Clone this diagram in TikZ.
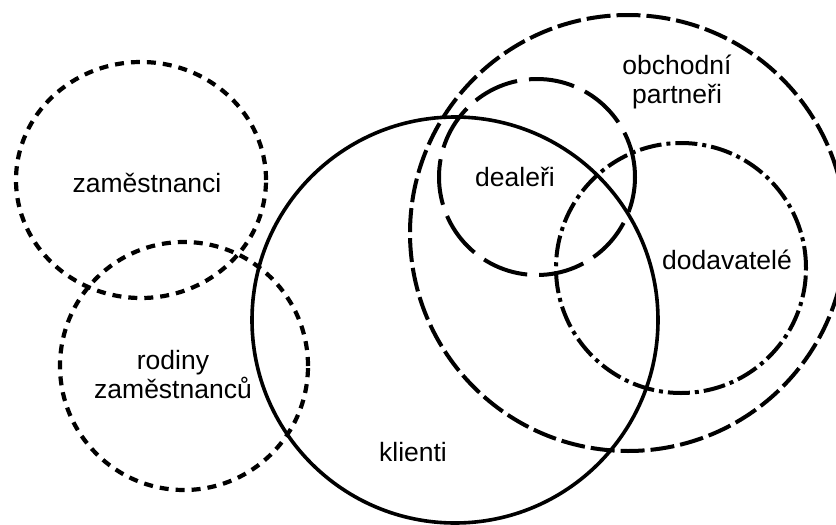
\documentclass[tikz,border=0pt]{standalone}
\usepackage{fontspec}
\setmainfont{Liberation Sans}
\usetikzlibrary{shapes.geometric}
\begin{document}
\begin{tikzpicture}[x=1pt,y=-1pt,
  set/.style={circle,draw=black,line width=3.6pt,inner sep=0pt,outer sep=0pt},
  shortdash/.style={set,line width=4.2pt,dash pattern=on 9pt off 7pt},
  middash/.style={set,line width=4pt,dash pattern=on 24pt off 6pt},
  longdash/.style={set,line width=4pt,dash pattern=on 46pt off 12pt},
  dashdot/.style={set,line width=4pt,dash pattern=on 22pt off 5pt on 4pt off 5pt},
  lbl/.style={font=\fontsize{26.5}{29}\selectfont,align=center,inner sep=0pt}]
  \useasboundingbox (0,0) rectangle (836,525);
  \fill[white] (0,0) rectangle (836,525);

  % the six groups
  \node[shortdash,ellipse,minimum width=250pt,minimum height=236pt] (zam) at (141,180) {};
  \node[shortdash,minimum size=248pt] (rod) at (184,366) {};
  \node[middash,minimum size=436pt] (obch) at (628,233) {};
  \node[longdash,minimum size=196pt] (deal) at (537,177) {};
  \node[dashdot,minimum size=250pt] (doda) at (681,268) {};
  \node[set,minimum size=406pt] (kli) at (455,320) {};

  % labels
  \node[lbl] (tzam) at (147,183) {zaměstnanci};
  \node[lbl] (trod) at (173,375) {rodiny\\zaměstnanců};
  \node[lbl] (tkli) at (413,452) {klienti};
  \node[lbl] (tdeal) at (515,177) {dealeři};
  \node[lbl] (tobch) at (677,82) {obchodní\\partneři};
  \node[lbl] (tdoda) at (727,260) {dodavatelé};
\end{tikzpicture}
\end{document}
